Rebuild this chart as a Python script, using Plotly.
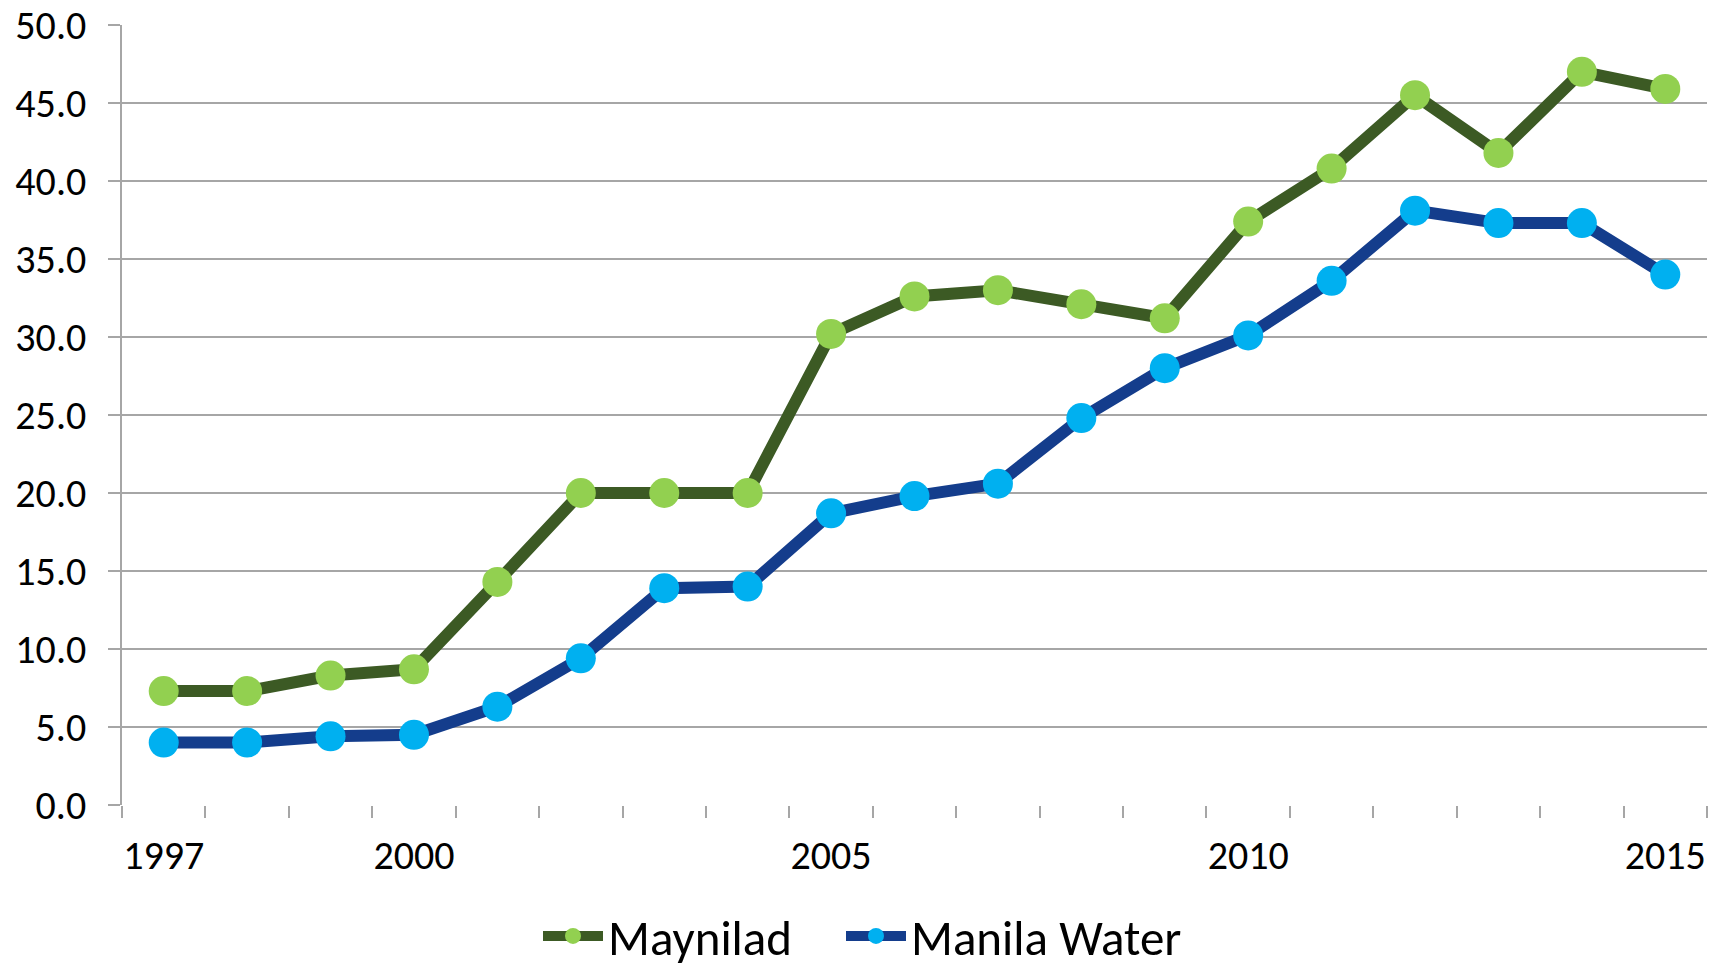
import plotly.graph_objects as go

years = list(range(1997, 2016))
maynilad = [7.3, 7.3, 8.3, 8.7, 14.3, 20.0, 20.0, 20.0, 30.2, 32.6, 33.0, 32.1, 31.2,
            37.4, 40.8, 45.5, 41.8, 47.0, 45.9]
manila_water = [4.0, 4.0, 4.4, 4.5, 6.3, 9.4, 13.9, 14.0, 18.7, 19.8, 20.6, 24.8, 28.0,
                30.1, 33.6, 38.1, 37.3, 37.3, 34.0]
label_years = [1997, 2000, 2005, 2010, 2015]
y_ticks = [0, 5, 10, 15, 20, 25, 30, 35, 40, 45, 50]

FONT = "Carlito, Lato, sans-serif"
GRID = "#A6A6A6"

idx = list(range(len(years)))

fig = go.Figure()
fig.add_trace(go.Scatter(
    x=idx, y=maynilad, name="Maynilad", mode="lines+markers",
    line=dict(color="#3C5A24", width=12),
    marker=dict(color="#92D050", size=30),
    legend="legend",
))
fig.add_trace(go.Scatter(
    x=idx, y=manila_water, name="Manila Water", mode="lines+markers",
    line=dict(color="#143D8C", width=12),
    marker=dict(color="#00B0F0", size=30),
    legend="legend2",
))

leg_common = dict(orientation="h", xref="container", yref="container",
                  xanchor="left", yanchor="middle", y=0.033,
                  font=dict(size=49, family=FONT), itemwidth=60,
                  bgcolor="rgba(0,0,0,0)")

fig.update_layout(
    width=1710, height=968,
    margin=dict(l=122, r=3, t=25, b=163, autoexpand=False),
    paper_bgcolor="white", plot_bgcolor="white",
    font=dict(family=FONT, color="black"),
    showlegend=True,
    legend=dict(x=538 / 1710, **leg_common),
    legend2=dict(x=841 / 1710, **leg_common),
    xaxis=dict(
        range=[-0.5, len(years) - 0.5],
        tickmode="array",
        tickvals=[years.index(y) for y in label_years],
        ticktext=[str(y) for y in label_years],
        ticks="", showgrid=False, zeroline=False,
        showline=False, automargin=False,
        tickfont=dict(size=40, family=FONT),
        ticklabelstandoff=23,
        minor=dict(tickmode="array",
                   tickvals=[i - 0.5 for i in range(len(years) + 1)],
                   ticks="outside", ticklen=12, tickwidth=1.5, tickcolor=GRID,
                   showgrid=False),
    ),
    yaxis=dict(
        range=[0, 50],
        tickmode="array", tickvals=y_ticks,
        tickformat=".1f",
        ticks="outside", ticklen=12, tickwidth=1.5, tickcolor=GRID,
        showgrid=True, gridcolor=GRID, gridwidth=1.5,
        zeroline=False, automargin=False,
        showline=True, linecolor=GRID, linewidth=1.5,
        tickfont=dict(size=40, family=FONT),
        ticklabelstandoff=14,
    ),
)

fig.write_html("out.html", config={"displayModeBar": False},
               post_script="document.body.style.margin='0';")
